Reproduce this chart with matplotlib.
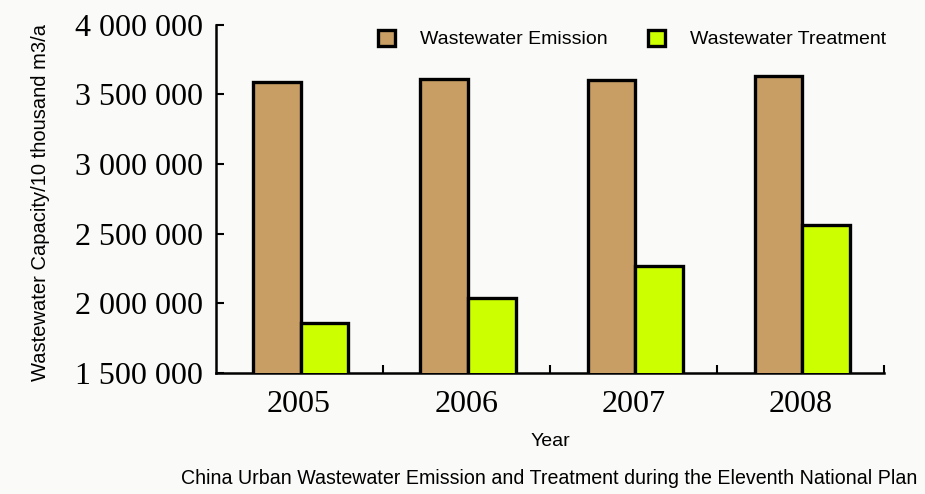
import numpy as np
import matplotlib
matplotlib.use('Agg')
import matplotlib.pyplot as plt
from matplotlib.ticker import FixedLocator, FuncFormatter

years = ['2005', '2006', '2007', '2008']
emission = [3590000, 3612000, 3600000, 3630000]
treatment = [1862000, 2038000, 2268000, 2562000]
yticks = [1500000, 2000000, 2500000, 3000000, 3500000, 4000000]

serif = ['Liberation Serif', 'DejaVu Serif']
sans = ['Liberation Sans', 'DejaVu Sans']

fig = plt.figure(figsize=(9.25, 4.94), dpi=100)
fig.patch.set_facecolor('#fafaf8')
ax = fig.add_axes([0.233, 0.245, 0.723, 0.705])
ax.set_facecolor('#fafaf8')

x = np.arange(1, len(years) + 1)
w = 0.285
b1 = ax.bar(x - w/2 + 0.01, emission, w, color='#c89e64', edgecolor='black',
            linewidth=2.4, label='Wastewater Emission', zorder=3)
b2 = ax.bar(x + w/2 + 0.01, treatment, w, color='#ccff00', edgecolor='black',
            linewidth=2.4, label='Wastewater Treatment', zorder=3)

ax.set_xlim(0.5, 4.5)
ax.set_ylim(1500000, 4000000)
for s in ('top', 'right'):
	ax.spines[s].set_visible(False)
for s in ('left', 'bottom'):
	ax.spines[s].set_linewidth(1.8)

ax.set_yticks(yticks)
ax.yaxis.set_major_formatter(FuncFormatter(lambda v, p: '{:,}'.format(int(v)).replace(',', ' ')))
ax.tick_params(axis='y', direction='in', length=6, width=1.5, pad=9, labelsize=23)
for t in ax.get_yticklabels():
	t.set_fontfamily(serif)

ax.set_xticks(x)
ax.set_xticklabels(years, fontsize=23, fontfamily=serif)
ax.tick_params(axis='x', which='major', length=0, pad=12)
ax.xaxis.set_minor_locator(FixedLocator([1.5, 2.5, 3.5, 4.5]))
ax.tick_params(axis='x', which='minor', direction='in', length=6, width=1.5)

ax.set_xlabel('Year', fontsize=14, fontfamily=sans, labelpad=10)
ax.set_ylabel('Wastewater Capacity/10 thousand m3/a', fontsize=14.5, fontfamily=sans)
ax.yaxis.set_label_coords(-0.248, 0.49)

leg = ax.legend(loc='upper right', bbox_to_anchor=(1.029, 1.035), ncol=2, frameon=False,
                prop={'family': sans, 'size': 14}, handlelength=0.85, handleheight=0.85,
                columnspacing=2.1, handletextpad=1.3)

fig.text(0.594, 0.032, 'China Urban Wastewater Emission and Treatment during the Eleventh National Plan',
         ha='center', va='center', fontsize=14.1, fontfamily=sans)

fig.savefig('out.png', dpi=100, facecolor=fig.get_facecolor())
